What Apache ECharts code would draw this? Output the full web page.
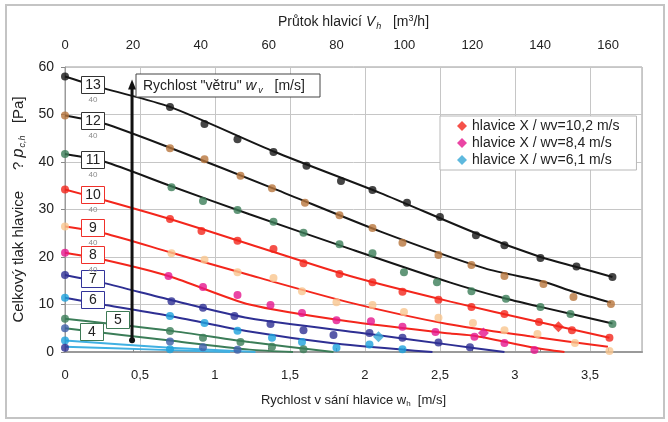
<!DOCTYPE html>
<html><head><meta charset="utf-8">
<script src="https://cdn.jsdelivr.net/npm/echarts@6/dist/echarts.min.js"></script>
<style>html,body{margin:0;padding:0;background:#fff}#c{width:668px;height:422px}</style>
</head><body><div id="c"></div>
<script>
// ---- data ----
const flowTicks = [0, 20, 40, 60, 80, 100, 120, 140, 160];      // top axis m3/h
const speedTicks = [0, 0.5, 1, 1.5, 2, 2.5, 3, 3.5];            // bottom axis m/s
const pressureTicks = [0, 10, 20, 30, 40, 50, 60];

const pts13 = [[0,58],[0.70,51.6],[0.93,48.0],[1.15,44.8],[1.39,42.1],[1.61,39.2],[1.84,36.0],[2.05,34.1],[2.28,31.4],[2.50,28.4],[2.74,24.6],[2.93,22.5],[3.17,19.8],[3.41,18.0],[3.65,15.8]];
const pts12 = [[0,49.8],[0.70,42.9],[0.93,40.6],[1.17,37.1],[1.38,34.5],[1.60,31.4],[1.83,28.8],[2.05,26.1],[2.25,23.0],[2.49,20.4],[2.71,18.3],[2.93,16.0],[3.19,14.3],[3.39,11.6],[3.64,10.1]];
const pts11 = [[0,41.7],[0.71,34.7],[0.92,31.8],[1.15,29.9],[1.39,27.4],[1.59,25.1],[1.83,22.7],[2.05,20.8],[2.26,16.8],[2.48,14.7],[2.71,12.8],[2.94,11.2],[3.17,9.5],[3.37,8.0],[3.65,5.9]];
const pts10 = [[0,34.2],[0.70,28.0],[0.91,25.5],[1.15,23.4],[1.39,21.7],[1.59,18.7],[1.83,16.4],[2.05,14.7],[2.25,12.7],[2.49,11.0],[2.71,9.5],[2.93,8.0],[3.16,6.3],[3.38,4.6],[3.63,3.0]];
const pts9  = [[0,26.4],[0.71,20.8],[0.93,19.4],[1.15,16.8],[1.39,15.6],[1.58,12.8],[1.81,10.5],[2.05,9.9],[2.26,8.4],[2.49,7.2],[2.72,6.1],[2.93,4.6],[3.15,3.8],[3.40,1.9],[3.63,0.2]];
const pts8  = [[0,20.9],[0.69,16.0],[0.92,13.7],[1.15,12.0],[1.37,9.9],[1.58,8.2],[1.81,6.7],[2.04,6.5],[2.25,5.3],[2.47,4.2],[2.73,3.2],[2.93,1.9],[3.13,0.4]];
const pts7  = [[0,16.2],[0.71,10.7],[0.92,9.3],[1.13,7.6],[1.37,5.9],[1.59,4.6],[1.79,3.6],[2.03,4.0],[2.25,3.0],[2.49,2.0],[2.70,1.0]];
const pts6  = [[0,11.4],[0.70,7.6],[0.93,6.1],[1.15,4.5],[1.38,3.0],[1.58,2.1],[1.81,0.9],[2.03,1.6],[2.25,0.6]];
const pts5  = [[0,7.0],[0.70,4.4],[0.92,3.0],[1.17,2.1],[1.38,1.1],[1.59,0.6]];
const pts4  = [[0,5.0],[0.70,2.2],[0.92,1.0],[1.15,0.5]];
const pts3  = [[0,2.4],[0.70,0.6]];
const pts2  = [[0,0.9]];

const tr13 = [[0,58],[0.26,55.5],[0.7,51.6],[1.4,42.1],[2.1,33.5],[2.74,25.0],[3.17,20.0],[3.41,17.9],[3.65,15.8]];
const tr12 = [[0,49.8],[0.26,48.1],[0.7,43.0],[1.4,34.3],[2.1,25.4],[2.8,17.6],[3.19,14.8],[3.39,12.7],[3.64,10.4]];
const tr11 = [[0,41.7],[0.26,40.1],[0.7,35.0],[1.23,29.0],[1.9,21.7],[2.57,14.6],[2.93,11.3],[3.17,9.5],[3.65,6.0]];
const tr10 = [[0,34.2],[0.27,31.9],[0.7,28.0],[1.23,22.7],[1.9,16.0],[2.57,10.6],[3.16,6.3],[3.63,3.0]];
const tr9  = [[0,26.4],[0.26,25.0],[0.7,21.0],[1.23,16.2],[1.9,10.4],[2.55,5.9],[3.1,3.3],[3.62,1.1]];
const tr8  = [[0,20.9],[0.26,19.4],[0.7,15.9],[1.23,10.0],[1.9,6.4],[2.57,3.9],[2.73,3.4],[3.13,0.9],[3.33,0]];
const tr7  = [[0,16.2],[0.26,14.5],[0.7,11.0],[1.23,7.1],[2.03,3.8],[2.57,1.5],[2.93,0]];
const tr6  = [[0,11.4],[0.27,9.9],[0.7,7.6],[1.23,4.3],[1.8,1.8],[2.45,0]];
const tr5  = [[0,7.0],[0.7,4.5],[1.23,2.1],[1.79,0]];
const tr4  = [[0,5.0],[0.7,2.4],[1.23,0.5],[1.52,0]];
const tr3  = [[0,2.4],[0.7,0.9],[1.27,0]];
const tr2  = [[0,1.1],[0.6,0.5],[1.1,0]];

const windArrow = [[0.447,2.5],[0.447,56.3]];

const legendNames = ['hlavice X / wv=10,2 m/s','hlavice X / wv=8,4 m/s','hlavice X / wv=6,1 m/s'];
const headX102 = [[3.29,5.3]];
const headX84  = [[2.79,4.0]];
const headX61  = [[2.09,3.2]];

const curveLabels = ['13','12','11','10','9','8','7','6','5','4'];

// ---- styles ----
const C = {
  blk:'#161616', brown:'#b8763c', green:'#3b7d58', red:'#f3261c', peach:'#f9c68f',
  mag:'#e5178d', dblue:'#2e2f93', lblue:'#1da1dc', blue4:'#3f5fa9', lline:'#40b0e2'
};
const curves = [
  [pts13, tr13, C.blk,  C.blk],
  [pts12, tr12, C.brown,C.blk],
  [pts11, tr11, C.green,C.blk],
  [pts10, tr10, C.red,  C.red],
  [pts9,  tr9,  C.peach,C.red],
  [pts8,  tr8,  C.mag,  C.red],
  [pts7,  tr7,  C.dblue,C.dblue],
  [pts6,  tr6,  C.lblue,C.dblue],
  [pts5,  tr5,  C.green,C.green],
  [pts4,  tr4,  C.blue4,C.green],
  [pts3,  tr3,  C.lblue,C.lline],
  [pts2,  tr2,  C.dblue,C.lline]
];

const FONT = '"Liberation Sans", Arial, sans-serif';
const series = [];
curves.forEach((c) => {
  series.push({type:'line', data:c[1], showSymbol:false, smooth:0.25,
    lineStyle:{color:c[3], width:2}, z:3, silent:true});
});
curves.forEach((c) => {
  series.push({type:'scatter', data:c[0], symbolSize:8, itemStyle:{color:c[2]}, z:4});
});
series.push({type:'line', data:[
  {value:windArrow[0], symbol:'circle', symbolSize:6},
  {value:windArrow[1], symbol:'triangle', symbolSize:[8,10]}],
  lineStyle:{color:'#111', width:3}, itemStyle:{color:'#111'}, z:6});
[[headX102, C.red],[headX84, C.mag],[headX61, '#36a7d6']].forEach((h, i) => {
  series.push({type:'scatter', name:legendNames[i], data:h[0], symbol:'diamond', symbolSize:11,
    itemStyle:{color:h[1]}, z:7});
});

// annotation boxes (pixel placement)
const boxPos = [[93,85],[93,121],[93,160],[93,195],[93,228],[93,255],[93,279],[93,300],[118,320],[92,332]];
const boxCol = ['#333','#333','#333','#f0302a','#f0302a','#f0302a','#33349a','#33349a','#3d7a55','#3d7a55'];
const graphic = [{type:'rect', shape:{x:6,y:5,width:658,height:413}, style:{fill:'none', stroke:'#c4c4c4', lineWidth:2}, z:0, silent:true}];
curveLabels.forEach((t, i) => {
  const [cx, cy] = boxPos[i];
  graphic.push({type:'rect', shape:{x:cx-11.5, y:cy-8.5, width:23, height:17},
    style:{fill:'#fff', stroke:boxCol[i], lineWidth:1}, z:50});
  graphic.push({type:'text', x:cx, y:cy+0.5, style:{text:t, fill:'#222', font:'14px '+FONT, textAlign:'center', textVerticalAlign:'middle'}, z:51});
  if (i < 6) graphic.push({type:'text', x:cx, y:cy+15, style:{text:'40', fill:'#8a8a8a', font:'8px '+FONT, textAlign:'center', textVerticalAlign:'middle'}, z:51});
});
graphic.push({type:'rect', shape:{x:136, y:74, width:184, height:23}, style:{fill:'#fff', stroke:'#444', lineWidth:1}, z:50});
graphic.push({type:'text', x:143, y:86, z:51, style:{
  text:'{a|Rychlost "větru" }{i|w}{s|v}{a|   [m/s]}', textVerticalAlign:'middle',
  rich:{a:{font:'14px '+FONT, fill:'#222'}, i:{font:'italic 15px '+FONT, fill:'#222'}, s:{font:'italic 9px '+FONT, fill:'#222', padding:[8,0,0,2]}}}});

const fmtComma = v => String(v).replace('.', ',');
const txt = {fontFamily:FONT, color:'#222'};

const option = {
  animation:false,
  textStyle:{fontFamily:FONT},
  grid:{left:65, right:26, top:67, bottom:70, show:true, borderColor:'#9a9a9a', borderWidth:1, backgroundColor:'transparent'},
  legend:{data:legendNames, left:440, top:116, orient:'vertical', icon:'diamond', itemWidth:10, itemHeight:10,
    itemGap:3, padding:[3,17,3,17], backgroundColor:'#fff', borderColor:'#b8b8b8', borderWidth:1,
    textStyle:{fontSize:14, lineHeight:14, color:'#222', fontFamily:FONT}, z:20, selectedMode:false},
  xAxis:[
    {type:'value', position:'bottom', min:speedTicks[0], max:3.847, interval:0.5,
     axisLine:{show:true, onZero:false, lineStyle:{color:'#9a9a9a', width:2}}, axisTick:{show:false},
     axisLabel:{...txt, fontSize:13, margin:17, showMaxLabel:false, formatter:fmtComma},
     splitLine:{show:true, lineStyle:{color:'#c6c6c6', width:1}},
     name:'{a|Rychlost v sání hlavice w}{s|h}{a|  [m/s]}', nameLocation:'middle', nameGap:41,
     nameTextStyle:{rich:{a:{fontSize:13, color:'#222', fontFamily:FONT}, s:{fontSize:8, color:'#222', fontFamily:FONT, padding:[7,0,0,0]}}}},
    {type:'value', position:'top', min:flowTicks[0], max:170, interval:20,
     axisLine:{show:true, lineStyle:{color:'#9a9a9a'}}, axisTick:{show:true, length:4, lineStyle:{color:'#888'}},
     axisLabel:{...txt, fontSize:13, margin:15, showMaxLabel:false}, splitLine:{show:false},
     name:'{a|Průtok hlavicí }{i|V}{s|h}{a|   [m}{p|3}{a|/h]}', nameLocation:'middle', nameGap:36,
     nameTextStyle:{rich:{a:{fontSize:14, color:'#222', fontFamily:FONT}, i:{fontSize:14, fontStyle:'italic', color:'#222', fontFamily:FONT},
       s:{fontSize:9, fontStyle:'italic', color:'#222', fontFamily:FONT, padding:[8,0,0,1]}, p:{fontSize:9, color:'#222', fontFamily:FONT, padding:[0,0,7,0]}}}}
  ],
  yAxis:{type:'value', min:pressureTicks[0], max:60, interval:10,
    axisLine:{show:true, lineStyle:{color:'#9a9a9a'}}, axisTick:{show:true, length:4, lineStyle:{color:'#888'}},
    axisLabel:{...txt, fontSize:14, margin:11},
    splitLine:{show:true, lineStyle:{color:'#c6c6c6'}},
    name:'{a|Celkový tlak hlavice     ? }{i|p}{s|c,h}{a|   [Pa]}', nameLocation:'middle', nameGap:38,
    nameTextStyle:{rich:{a:{fontSize:15, color:'#222', fontFamily:FONT}, i:{fontSize:16, fontStyle:'italic', color:'#222', fontFamily:FONT},
      s:{fontSize:9, fontStyle:'italic', color:'#222', fontFamily:FONT, padding:[8,0,0,1]}}}},
  graphic:graphic,
  series:series
};
series.forEach(s => { s.xAxisIndex = 0; });
const chart = echarts.init(document.getElementById('c'), null, {renderer:'canvas'});
chart.setOption(option);
</script></body></html>
